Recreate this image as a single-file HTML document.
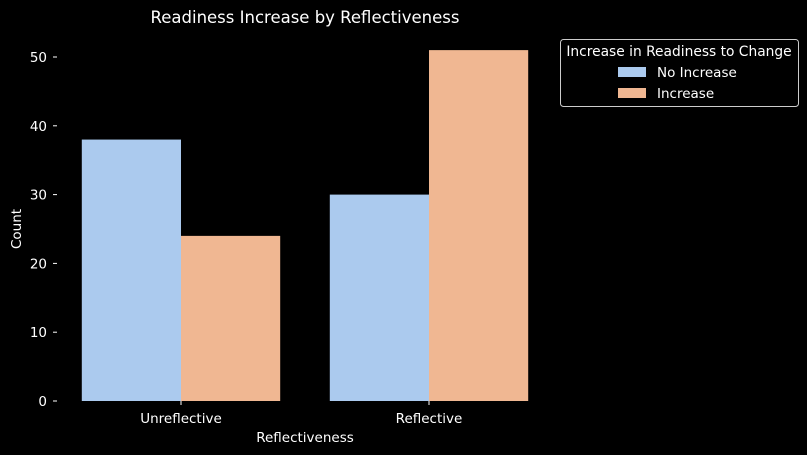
<!DOCTYPE html>
<html><head><meta charset="utf-8"><style>
body{margin:0;background:#000;}
svg{display:block;font-family:"DejaVu Sans","Liberation Sans",sans-serif;}
</style></head><body>
<svg id="chart" width="807" height="455" viewBox="0 0 807 455">
<rect width="807" height="455" fill="#000"/>
<text x="305" y="23" fill="#fff" font-size="16.5" text-anchor="middle">Readiness Increase by Reflectiveness</text>
<g id="yaxis"></g>
<g id="bars"></g>
<g id="xaxis"></g>
<text x="305" y="442" fill="#fff" font-size="13.5" text-anchor="middle">Reflectiveness</text>
<text transform="translate(21,229) rotate(-90)" fill="#fff" font-size="13.5" text-anchor="middle">Count</text>
<g>
<rect x="560.5" y="39.5" width="238" height="67" rx="3" fill="#000" stroke="#ccc" stroke-width="1"/>
<text x="679" y="56" fill="#fff" font-size="13.8" text-anchor="middle">Increase in Readiness to Change</text>
<rect x="618" y="67" width="28" height="10" fill="#abcaee"/>
<text x="657" y="77" fill="#fff" font-size="13.5">No Increase</text>
<rect x="618" y="88" width="28" height="10" fill="#f0b792"/>
<text x="657" y="98" fill="#fff" font-size="13.5">Increase</text>
</g>
</svg>
<script>
const categories=["Unreflective","Reflective"];
const noIncrease=[38,30];
const increase=[24,51];
const yTicks=[0,10,20,30,40,50];
const NS="http://www.w3.org/2000/svg";
const x0=57,x1=553,y0=401,yTop=57,yMaxVal=50;
function ys(v){return y0-(v/yMaxVal)*(y0-yTop);}
const band=(x1-x0)/categories.length;
function xc(i){return x0+band*(i+0.5);}
const bw=band*0.4;
function mk(tag,attrs,parent){const e=document.createElementNS(NS,tag);for(const k in attrs)e.setAttribute(k,attrs[k]);parent.appendChild(e);return e;}
const yg=document.getElementById('yaxis'),bg=document.getElementById('bars'),xg=document.getElementById('xaxis');
yTicks.forEach(t=>{
 const y=ys(t);
 const l=mk('line',{x1:53,x2:57,y1:y,y2:y,stroke:'#fff'},yg);
 
 
 const tx=mk('text',{x:47,y:y+5,fill:'#fff','font-size':13.5,'text-anchor':'end'},yg);
 tx.textContent=t;
 
 
});
categories.forEach((c,i)=>{
 const cx=xc(i);
 const r1=mk('rect',{x:cx-bw,y:ys(noIncrease[i]),width:bw,height:y0-ys(noIncrease[i]),fill:'#abcaee'},bg);
 
 
 const r2=mk('rect',{x:cx,y:ys(increase[i]),width:bw,height:y0-ys(increase[i]),fill:'#f0b792'},bg);
 
 
 const tk=mk('line',{x1:cx,x2:cx,y1:401,y2:405,stroke:'#fff'},xg);
 
 
 const tx=mk('text',{x:cx,y:423,fill:'#fff','font-size':13.5,'text-anchor':'middle'},xg);
 tx.textContent=c;
 
 
});
</script>
</body></html>
